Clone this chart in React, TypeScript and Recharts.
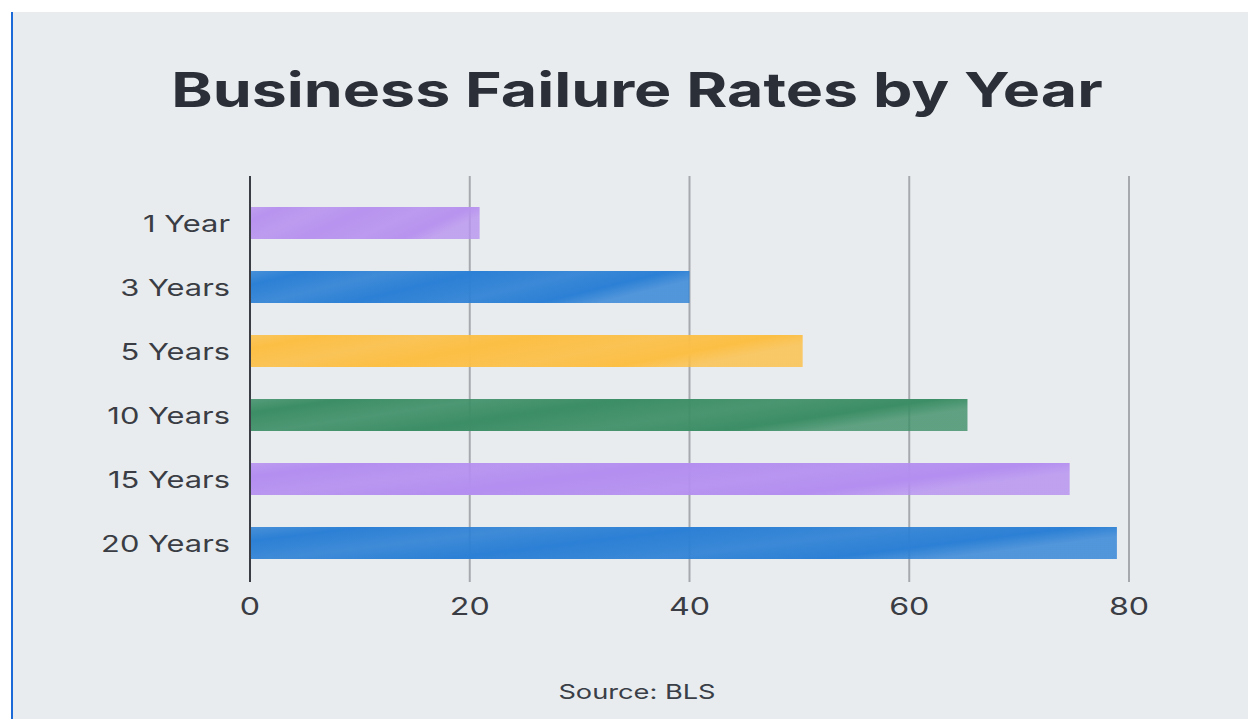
import React from "react";
import { BarChart, Bar, XAxis, YAxis, CartesianGrid, Cell } from "recharts";

// Share of businesses that have failed after each period
const periods = ["1 Year", "3 Years", "5 Years", "10 Years", "15 Years", "20 Years"];
const failureRates = [20.9, 40, 50.3, 65.3, 74.6, 78.9];
const barColors = ["#b893ef", "#2c80d5", "#fcbf45", "#3c8e66", "#b48ef0", "#2c80d5"];
const xTicks = [0, 20, 40, 60, 80];

const data = periods.map((period, i) => ({ period, rate: failureRates[i] }));

const FONT = "Inter, 'Noto Sans', sans-serif";
const WIDEN = 1.34;

const XTick = (props: any) => {
  const { x, y, payload } = props;
  return (
    <g transform={`translate(${x},${y + 17}) scale(${WIDEN},1)`}>
      <text x={0} y={0} textAnchor="middle" dominantBaseline="central"
        fontFamily={FONT} fontSize={24} fill="#3a3d44">
        {payload.value}
      </text>
    </g>
  );
};

const YTick = (props: any) => {
  const { x, y, payload } = props;
  return (
    <g transform={`translate(${x},${y + 1}) scale(${WIDEN},1)`}>
      <text x={0} y={0} textAnchor="end" dominantBaseline="central"
        fontFamily={FONT} fontSize={23} fill="#3a3d44">
        {payload.value}
      </text>
    </g>
  );
};

// Soft streaks give each bar a painted, brushed look
const BrushDefs = () => (
  <defs>
    {barColors.map((c, i) => (
      <linearGradient key={i} id={`brush-${i}`} x1="0" y1="0" x2="1" y2="0.3">
        <stop offset="0%" stopColor={c} stopOpacity={0.85} />
        <stop offset="12%" stopColor={c} stopOpacity={1} />
        <stop offset="30%" stopColor={c} stopOpacity={0.9} />
        <stop offset="48%" stopColor={c} stopOpacity={1} />
        <stop offset="70%" stopColor={c} stopOpacity={0.92} />
        <stop offset="88%" stopColor={c} stopOpacity={1} />
        <stop offset="100%" stopColor={c} stopOpacity={0.8} />
      </linearGradient>
    ))}
  </defs>
);

const wideText = (scale: number): React.CSSProperties => ({
  position: "absolute",
  left: 19,
  width: 1236,
  textAlign: "center",
  fontFamily: FONT,
  transform: `scaleX(${scale})`,
  transformOrigin: "618px 0",
});

export default function App() {
  return (
    <div
      style={{
        position: "fixed",
        left: 0,
        top: 0,
        width: 1248,
        height: 719,
        overflow: "hidden",
        background: "#ffffff",
      }}
    >
      <div
        style={{
          position: "absolute",
          left: 11,
          top: 12,
          width: 1237,
          height: 707,
          background: "#e9ecef",
          borderLeft: "2px solid #1b6ad8",
          boxSizing: "border-box",
        }}
      />
      <div
        style={{
          ...wideText(1.305),
          top: 60,
          fontWeight: 700,
          fontSize: 48,
          color: "#2b2f38",
          lineHeight: "60px",
        }}
      >
        Business Failure Rates by Year
      </div>
      <div
        style={{
          ...wideText(1.36),
          top: 678,
          fontSize: 20,
          color: "#3a3f47",
          lineHeight: "28px",
        }}
      >
        Source: BLS
      </div>
      <div style={{ position: "absolute", left: 12, top: 12 }}>
        <BarChart
          width={1236}
          height={707}
          data={data}
          layout="vertical"
          margin={{ top: 164, right: 119, bottom: 97, left: 0 }}
        >
          <BrushDefs />
          <CartesianGrid horizontal={false} vertical={true} stroke="#a6aaaf" strokeWidth={2} />
          <XAxis
            type="number"
            domain={[0, 80]}
            ticks={xTicks}
            axisLine={false}
            tickLine={false}
            height={40}
            tick={<XTick />}
          />
          <YAxis
            type="category"
            dataKey="period"
            width={238}
            padding={{ top: 15, bottom: 7 }}
            axisLine={{ stroke: "#3a3d44", strokeWidth: 2 }}
            tickLine={false}
            tick={<YTick />}
            tickMargin={14}
          />
          <Bar dataKey="rate" barSize={32} isAnimationActive={false}>
            {data.map((_, i) => (
              <Cell key={i} fill={`url(#brush-${i})`} />
            ))}
          </Bar>
        </BarChart>
      </div>
    </div>
  );
}
